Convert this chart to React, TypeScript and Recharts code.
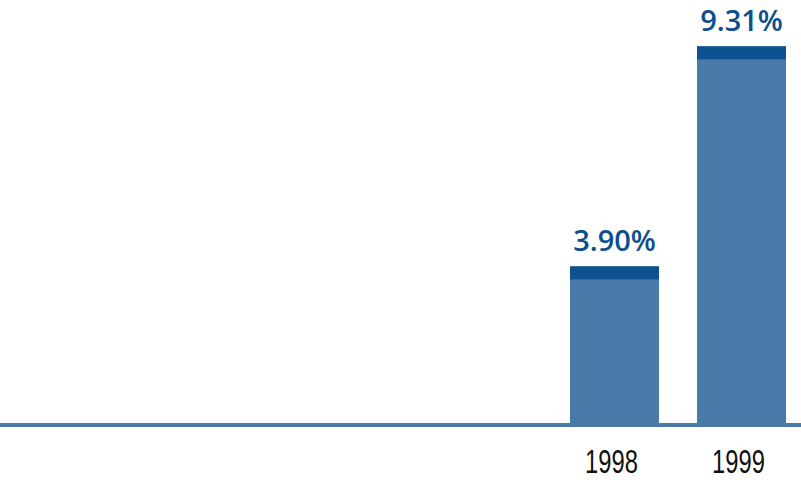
import { BarChart, Bar, XAxis, YAxis, LabelList, ReferenceLine } from "recharts";

const years = ["1998", "1999"];
const rates = [3.9, 9.31];
const rateLabels = ["3.90%", "9.31%"];

const data = years.map((year, i) => ({ year, rate: rates[i], label: rateLabels[i] }));

const BODY = "#497aaa";
const CAP = "#0e5191";

function CappedBar(props: any) {
  const { x, y, width, height } = props;
  if (!height || height <= 0) return null;
  const cap = Math.min(13, height);
  return (
    <g>
      <rect x={x} y={y} width={width} height={height} fill={BODY} />
      <rect x={x} y={y} width={width} height={cap} fill={CAP} />
    </g>
  );
}

function TopLabel(props: any) {
  const { x, y, width, value } = props;
  return (
    <text
      x={x + width / 2}
      y={y - 15}
      textAnchor="middle"
      fill="#0d4f8c"
      fontFamily="'Open Sans', sans-serif"
      fontWeight={600}
      fontSize={29}
    >
      {value}
    </text>
  );
}

function YearTick(props: any) {
  const { x, y, payload } = props;
  return (
    <text
      x={0}
      y={0}
      textAnchor="middle"
      fill="#111"
      fontFamily="'Liberation Sans', sans-serif"
      fontSize={33}
      transform={`translate(${x - 3}, ${y + 48}) scale(0.72, 1)`}
    >
      {payload.value}
    </text>
  );
}

export default function App() {
  return (
    <div style={{ position: "absolute", left: 0, top: 0, width: 801, height: 484, overflow: "hidden", background: "#fff" }}>
      <BarChart
        width={805}
        height={484}
        data={data}
        margin={{ top: 2, right: 0, bottom: 0, left: 0 }}
        barCategoryGap={19}
      >
        <YAxis hide domain={[0, 10.4]} />
        <XAxis
          dataKey="year"
          height={59}
          padding={{ left: 551, right: 0 }}
          axisLine={false}
          tickLine={false}
          tickSize={0}
          tickMargin={0}
          tick={<YearTick />}
        />
        <Bar dataKey="rate" shape={<CappedBar />} isAnimationActive={false}>
          <LabelList dataKey="label" content={<TopLabel />} />
        </Bar>
        <ReferenceLine y={0} stroke={BODY} strokeWidth={4} />
      </BarChart>
    </div>
  );
}
